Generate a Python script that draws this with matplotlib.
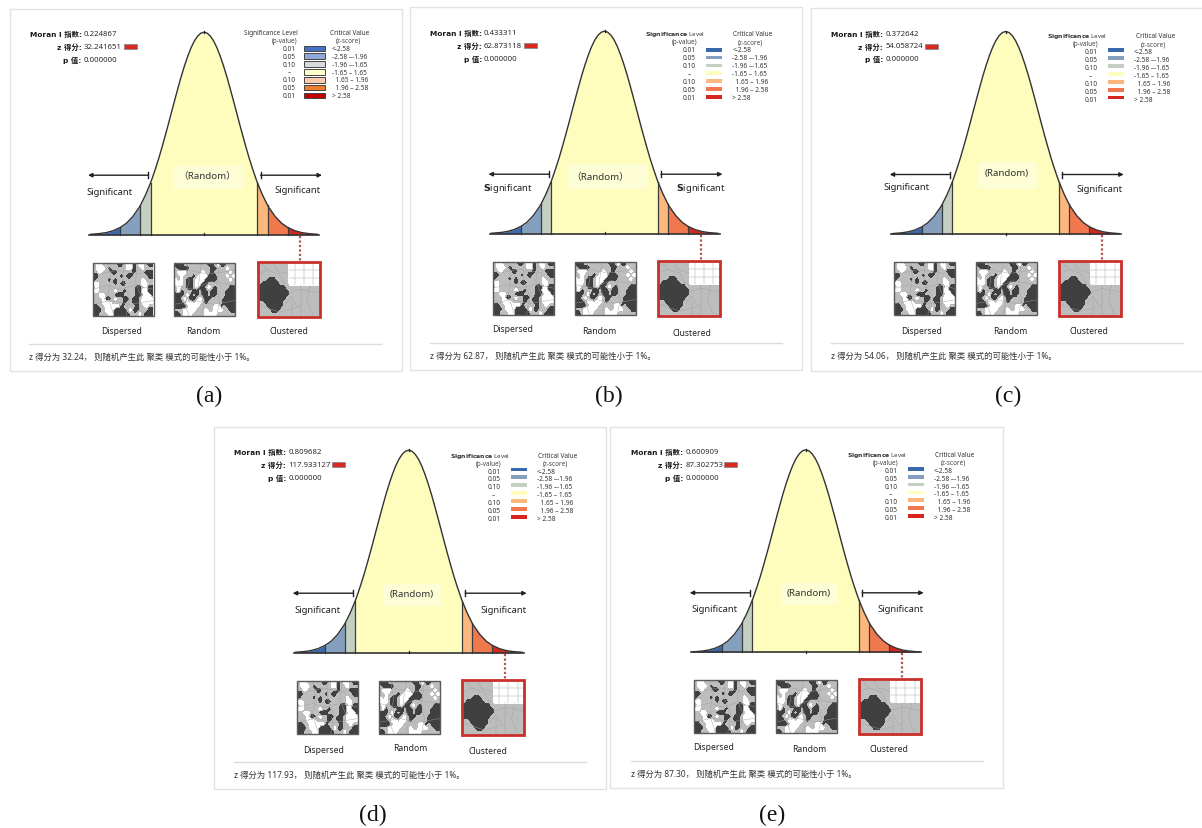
import matplotlib
matplotlib.use("Agg")
import matplotlib.pyplot as plt
from matplotlib.patches import Rectangle
import numpy as np

# Moran's I report panels, everything drawn in picture pixels on one full figure axes

plt.rcParams['mathtext.fontset'] = 'custom'
plt.rcParams['mathtext.bf'] = 'DejaVu Sans:bold'
LATIN = ['Noto Sans', 'Noto Sans CJK SC']
BOLD = ['DejaVu Sans', 'Noto Sans CJK SC']

moran_i = ["0.224867", "0.433311", "0.372642", "0.809682", "0.600909"]
z_score = ["32.241651", "62.873118", "54.058724", "117.933127", "87.302753"]
z_short = ["32.24", "62.87", "54.06", "117.93", "87.30"]
captions = ["(a)", "(b)", "(c)", "(d)", "(e)"]

# curve centre and baseline of each panel
centre_x = [204, 604.5, 1005.7, 408.7, 805.7]
base_y = [235.7, 234.7, 235, 653.7, 653.3]
frame_l = [10, 410, 810.7, 214.3, 610]
frame_r = [401.7, 802, 1210, 605.7, 1003]
frame_t = [10, 8, 9, 428, 427.7]
frame_b = [371.7, 371, 371.7, 789.7, 789]

# per panel label placement, relative to centre and baseline
sig_left = [(-94, -43.7), (-96.5, -46.4), (-98.7, -47.3), (-91, -43), (-91.4, -43.3)]
sig_right = [(93.3, -45.4), (96, -46.4), (94.3, -45.7), (94.6, -43.4), (95, -43.3)]
random_lab = [(2.7, -59.7), (-4.5, -57.4), (0.6, -61.7), (3, -59.7), (3, -59.7)]
random_box = [(-31, 39, -69, -46), (-38, 42, -70, -45), (-27.5, 31, -72, -45), (-25, 32, -69, -47), (-25, 32, -69, -47)]
disp_lab = [(-82.3, 95.3), (-92, 94.3), (-84, 96.7), (-84.7, 96.6), (-92.4, 94)]
rand_lab = [(-0.7, 95.3), (-5, 96.6), (4.3, 96.7), (1.6, 95), (4, 96)]
clus_lab = [(85.3, 96), (87, 98.7), (83, 96.7), (79.3, 97.6), (83, 96.7)]
swatch_l = [-80, -80.2, -80.7, -76.7, -81.4]
legend_x = [-1, 0.8, 2.5, 2, 2.3]
legend_y = [-186.4, -184, -182.3, -181.7, -182]

# bell curve, heights read as a share of the peak
bell_z = [0, 0.1, 0.2, 0.3, 0.4, 0.5, 0.6, 0.7, 0.8, 0.9, 1.0, 1.1, 1.2, 1.3, 1.4, 1.5, 1.6, 1.65, 1.8, 1.96, 2.0, 2.2, 2.4, 2.58, 2.8, 3.0, 3.2, 3.5]
bell_h = [1.0, 0.995, 0.98, 0.956, 0.923, 0.882, 0.835, 0.783, 0.726, 0.667, 0.607, 0.546, 0.487, 0.43, 0.375, 0.325, 0.278, 0.256, 0.198, 0.146, 0.135, 0.089, 0.056, 0.036, 0.02, 0.011, 0.006, 0.002]
z_bins = [-3.5, -2.58, -1.96, -1.65, 1.65, 1.96, 2.58, 3.5]
bin_colors = ["#3a68ad", "#85a0bf", "#c3cfc0", "#fefdbd", "#fcb77f", "#f0784e", "#d7261e"]
first_colors = ["#4472c4", "#8eaadb", "#d9d9d9", "#ffffcc", "#f8cbad", "#ed7d31", "#c00000"]

sig_levels = ["0.01", "0.05", "0.10", "–", "0.10", "0.05", "0.01"]
crit_vals = ["<-2.58", "-2.58 –-1.96", "-1.96 –-1.65", "-1.65 – 1.65", "  1.65 – 1.96", "  1.96 – 2.58", "> 2.58"]

# maps as 20 x 14 cells: # dark, + gray, . white
map_dispersed = [
    "+..+++++##+..#+..+##",
    "+...+#+++++..#++.+++",
    "++.+++##+++++#+++###",
    "##+++++++#+##+++++##",
    "#++++#+#++++++++.+++",
    "..+++++#+##+++++..++",
    "+.++++++++++++##+.##",
    "..+++++.++#+++##..##",
    "++..+++###++++##+..#",
    "+++.##+.++##+##+....",
    "+++...++++#++##+....",
    "##++.....#++++#++.++",
    "###+...####+.##+++##",
    "##+++..#####+++.+###",
]
map_random = [
    "###++++++++##+.##+++",
    "+####+++++++##+++.++",
    "+...+++++.++#+++++.+",
    "++.+++#+...###+++.+.",
    ".+.+##+...####++++.+",
    "...+##+..##+++++++++",
    "+.++##+.##+.+#++++##",
    "+.#+++##+##+##+++###",
    "###+.#+#+##+##+++###",
    "##+.+##+.+##++++####",
    "###+..+..+#+++++####",
    "####+...+++++..#+###",
    "+++....+++.++...++##",
    "##+...++++....++++++",
]
map_clustered = [
    "++++++++++..........",
    "++++++++++..........",
    "++++++++++..........",
    "++++++++++..........",
    "+++###++++..........",
    "+######+++..........",
    "#########+++++++++++",
    "##########++++++++++",
    "##########++++++++++",
    "#########+++++++++++",
    "++######++++++++++++",
    "+++#####++++++++++++",
    "++++###+++++++++++++",
    "++++++++++++++++++++",
]
cell_gray = {"#": 0.25, "+": 0.75, ".": 1.0}

# county borders, in map cells
lines_dispersed = [[(0, 7), (5, 6), (9, 7), (14, 6), (20, 7)], [(5, 0), (6, 4), (5, 9), (7, 14)], [(10, 0), (10, 5), (12, 9), (11, 14)],
                   [(15, 0), (14, 5), (16, 9), (15, 14)], [(0, 11), (6, 10), (12, 11), (20, 10)], [(2, 3), (8, 2), (16, 3)]]
lines_random = [[(0, 6), (6, 7), (12, 5), (20, 6)], [(4, 0), (5, 5), (3, 10), (5, 14)], [(9, 0), (8, 6), (10, 10), (9, 14)],
                [(15, 0), (14, 6), (15, 10), (14, 14)], [(0, 11), (7, 10), (13, 11), (20, 10)], [(5, 2), (11, 3), (20, 2)]]
lines_clustered = [[(1, 0), (3, 2), (7, 3), (9, 6)], [(0, 3), (3, 2)], [(5, 0), (6, 2), (10, 3)], [(10, 2), (20, 2)], [(10, 4), (20, 4)],
                   [(12, 0), (12, 6)], [(15, 0), (15, 6)], [(18, 0), (18, 6)], [(10, 8), (14, 7), (20, 8)], [(14, 6), (14, 14)],
                   [(17, 6), (16, 10), (18, 14)], [(9, 11), (11, 9), (13, 12), (14, 11)], [(0, 11), (3, 12), (7, 13), (12, 12)], [(11, 10), (11, 14)]]


def draw_map(ax, rows, borders, x0, x1, y0, y1):
    # crisp outlines of the classes, the edge cells repeated so the shapes reach the frame
    cells = np.array([[cell_gray[c] for c in r] for r in rows])
    cells = np.pad(cells, 1, mode="edge")
    dx = (x1-x0)/20
    dy = (y1-y0)/14
    gx = [x0 + (i-0.5)*dx for i in range(22)]
    gy = [y0 + (j-0.5)*dy for j in range(16)]
    clip = Rectangle((x0, y0), x1-x0, y1-y0, transform=ax.transData)
    area = ax.contourf(gx, gy, cells, levels=[0, 0.66, 0.9, 1.01], colors=["#404040", "#bdbdbd", "#ffffff"], zorder=3)
    area.set_clip_path(clip)
    for line in borders:
        ax.plot([x0 + a*dx for a, b in line], [y0 + b*dy for a, b in line], color="#a0a0a0", lw=0.3, zorder=3.2)


def mirrored_curve():
    zs = [-v for v in bell_z[:0:-1]] + bell_z
    hs = bell_h[:0:-1] + bell_h
    return zs, hs


fig = plt.figure(figsize=(12.02, 8.29), dpi=100)
ax = fig.add_axes([0, 0, 1, 1])
sigma = 32.4
peak = 202.5
zs, hs = mirrored_curve()

for p in range(5):
    cx = centre_x[p]
    by = base_y[p]
    ax.add_patch(Rectangle((frame_l[p], frame_t[p]), frame_r[p]-frame_l[p], frame_b[p]-frame_t[p],
                           fc="white", ec="#e2e2e2", lw=1, zorder=1))

    # bell segments
    xs = [cx + z*sigma for z in zs]
    ys = [by - h*peak for h in hs]
    for i in range(7):
        sel = [k for k, z in enumerate(zs) if z_bins[i] <= z <= z_bins[i+1]]
        ax.fill_between([xs[k] for k in sel], [ys[k] for k in sel], by, color=bin_colors[i], lw=0, zorder=2)
    for b in z_bins[1:-1]:
        k = zs.index(b)
        ax.plot([xs[k], xs[k]], [ys[k], by], color="#3c3c3c", lw=0.9, zorder=3)
    ax.plot(xs, ys, color="#333333", lw=1.0, zorder=4)
    ax.plot([cx-115, cx+115], [by, by], color="#333333", lw=1.2, zorder=4)
    ax.plot([cx, cx], [by-1.5, by+0.5], color="#222222", lw=0.9, zorder=4)
    ax.plot([cx, cx], [by-peak-1, by-peak+1], color="#222222", lw=0.9, zorder=4)

    # random label
    bx = random_box[p]
    ax.add_patch(Rectangle((cx+bx[0], by+bx[2]), bx[1]-bx[0], bx[3]-bx[2], fc="#fefed6", ec="none", zorder=3))
    ax.text(cx+random_lab[p][0], by+random_lab[p][1], "（Random）" if p < 2 else "(Random)", ha="center", va="center",
            fontsize=7.0, color="#333333", family=LATIN, zorder=5)

    # arrows
    ay = by - 59.5
    ax.annotate("", xy=(cx-116, ay), xytext=(cx-55.5, ay), zorder=5,
                arrowprops=dict(arrowstyle="-|>", color="#222222", lw=1.0, mutation_scale=6, shrinkA=0, shrinkB=0))
    ax.annotate("", xy=(cx+118, ay), xytext=(cx+56.5, ay), zorder=5,
                arrowprops=dict(arrowstyle="-|>", color="#222222", lw=1.0, mutation_scale=6, shrinkA=0, shrinkB=0))
    ax.plot([cx-55.7, cx-55.7], [ay-3, ay+3], color="#222222", lw=1, zorder=5)
    ax.plot([cx+56.7, cx+56.7], [ay-3, ay+3], color="#222222", lw=1, zorder=5)
    sig = r"$\mathbf{S}$ignificant" if p == 1 else "Significant"
    for pos in (sig_left[p], sig_right[p]):
        ax.text(cx+pos[0], by+pos[1], sig, ha="center", va="center", fontsize=6.8, color="#222222", family=LATIN, zorder=5)

    # statistics block
    names = ["Moran I 指数:", "z 得分:", "p 值:"]
    vals = [moran_i[p], z_score[p], "0.000000"]
    for i in range(3):
        ty = by - 201 + i*12.9
        ax.text(cx-122.5, ty, names[i], ha="right", va="center", fontsize=5.3, weight="bold", color="#1a1a1a", family=BOLD, zorder=5)
        ax.text(cx-120.5, ty, vals[i], ha="left", va="center", fontsize=5.6, color="#2a2a2a", family=LATIN, zorder=5)
    ax.add_patch(Rectangle((cx+swatch_l[p], by-190.4), 12.5, 5, fc="#d8281f", ec="#8a8a8a", lw=0.6, zorder=5))

    # legend
    lx = legend_x[p]
    ly = legend_y[p]
    head = "Significance Level" if p == 0 else r"$\mathbf{Significance}$ Level"
    ax.text(cx+40.5+lx*0.2, by+ly-16, head, ha="left", va="center", fontsize=4.7 if p == 0 else 4.4, color="#333333", family=LATIN, zorder=5)
    ax.text(cx+93, by+ly-8, "(p-value)", ha="right", va="center", fontsize=4.6, color="#444444", family=LATIN, zorder=5)
    ax.text(cx+147+lx, by+ly-16, "Critical Value", ha="center", va="center", fontsize=4.7, color="#333333", family=LATIN, zorder=5)
    ax.text(cx+145+lx, by+ly-8, "(z-score)", ha="center", va="center", fontsize=4.6, color="#444444", family=LATIN, zorder=5)
    for i in range(7):
        ry = by + ly + i*7.9
        ax.text(cx+85, ry, sig_levels[i], ha="center", va="center", fontsize=4.7, color="#333333", family=LATIN, zorder=5)
        ax.text(cx+128, ry, crit_vals[i], ha="left", va="center", fontsize=4.7, color="#333333", family=LATIN, zorder=5)
        if p == 0:
            ax.add_patch(Rectangle((cx+100.3, ry-2.8), 21, 5.4, fc=first_colors[i], ec="#444444", lw=0.7, zorder=5))
        else:
            off = 0 if p < 2 else -1.5
            ax.add_patch(Rectangle((cx+101+lx*0.6, ry-2+off), 16, 3.8, fc=bin_colors[i], ec="none", zorder=5))

    # maps
    my0 = by + 28
    my1 = by + 81
    draw_map(ax, map_dispersed, lines_dispersed, cx-111.3, cx-50.6, my0, my1)
    draw_map(ax, map_random, lines_random, cx-30, cx+31, my0, my1)
    draw_map(ax, map_clustered, lines_clustered, cx+54, cx+115, my0, my1)
    for mx in (cx-111.3, cx-30):
        ax.add_patch(Rectangle((mx, my0), 61, 53, fc="none", ec="#5a5a5a", lw=1, zorder=4))
    ax.add_patch(Rectangle((cx+53, by+27), 63.5, 56.5, fc="#cfcfcf", ec="none", zorder=2.5))
    ax.add_patch(Rectangle((cx+53.5, by+27), 62, 55, fc="none", ec="#c9302a", lw=2, zorder=4))
    ax.plot([cx+96, cx+96], [by+1, by+26], color="#b5534f", lw=1.6, ls=(0, (1, 1)), zorder=4)

    ax.text(cx+disp_lab[p][0], by+disp_lab[p][1], "Dispersed", ha="center", va="center", fontsize=6.2, color="#222222", family=LATIN, zorder=5)
    ax.text(cx+rand_lab[p][0], by+rand_lab[p][1], "Random", ha="center", va="center", fontsize=6.2, color="#222222", family=LATIN, zorder=5)
    ax.text(cx+clus_lab[p][0], by+clus_lab[p][1], "Clustered", ha="center", va="center", fontsize=6.2, color="#222222", family=LATIN, zorder=5)

    # footer
    ax.plot([cx-175, cx+177], [by+108.8, by+108.8], color="#dcdcdc", lw=1, zorder=2)
    ax.text(cx-175, by+121.5, "z 得分为 " + z_short[p] + "， 则随机产生此 聚类 模式的可能性小于 1%。", ha="left", va="center",
            fontsize=6.0, color="#333333", family=LATIN, zorder=5)

# figure captions
caption_x = [209.3, 608.7, 1008.3, 373, 772.3]
caption_y = [396.7, 396.7, 396.7, 815, 815]
for c, x, y in zip(captions, caption_x, caption_y):
    ax.text(x, y, c, ha="center", va="center", fontsize=17, family="Liberation Serif", color="#111111")

ax.set_xlim(0, 1202)
ax.set_ylim(829, 0)
ax.axis("off")
fig.savefig("out.png", dpi=100)
